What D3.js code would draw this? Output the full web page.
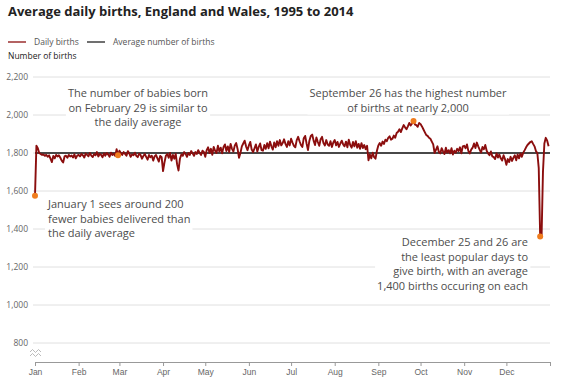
<!DOCTYPE html>
<html>
<head>
<meta charset="utf-8">
<script src="https://cdn.jsdelivr.net/npm/d3@7"></script>
<style>
  body { margin: 0; background: #fff; }
  svg { font-family: "Open Sans", sans-serif; }
  .grid line { stroke: #e0e0e0; }
  .axis text { fill: #666; font-size: 8.5px; }
  .note { fill: #4d4d4d; font-size: 11px; }
</style>
</head>
<body>
<svg id="chart"></svg>
<script>
// average daily births per day of a leap year, month by month
var jan = [1575, 1838, 1825, 1800, 1795, 1790, 1792, 1785, 1790, 1780, 1788, 1770, 1752, 1785, 1772, 1790,
  1782, 1788, 1775, 1760, 1750, 1782, 1786, 1775, 1790, 1782, 1787, 1776, 1793, 1772, 1786];
var feb = [1790, 1782, 1795, 1788, 1776, 1797, 1790, 1783, 1800, 1786, 1779, 1794, 1788, 1805, 1782,
  1795, 1790, 1778, 1798, 1786, 1800, 1792, 1780, 1802, 1790, 1796, 1785, 1820, 1788];
var mar = [1812, 1800, 1790, 1805, 1795, 1786, 1810, 1798, 1780, 1792, 1788, 1802, 1785, 1778, 1796, 1790,
  1770, 1784, 1795, 1780, 1765, 1790, 1778, 1786, 1760, 1782, 1790, 1772, 1755, 1785, 1778];
var apr = [1705, 1750, 1785, 1795, 1775, 1800, 1760, 1790, 1770, 1795, 1740, 1708, 1770, 1792, 1785,
  1805, 1795, 1780, 1800, 1790, 1810, 1798, 1785, 1805, 1795, 1815, 1800, 1790, 1812, 1805];
var may = [1780, 1815, 1830, 1800, 1822, 1790, 1832, 1812, 1800, 1838, 1808, 1828, 1798, 1832, 1845, 1810,
  1835, 1805, 1848, 1822, 1808, 1840, 1852, 1820, 1775, 1800, 1835, 1850, 1865, 1835, 1815];
var jun = [1840, 1858, 1818, 1805, 1825, 1845, 1808, 1832, 1850, 1815, 1812, 1842, 1822, 1852, 1825,
  1860, 1835, 1818, 1855, 1830, 1862, 1838, 1868, 1840, 1852, 1872, 1848, 1832, 1862, 1840];
var jul = [1875, 1855, 1838, 1830, 1868, 1885, 1862, 1842, 1832, 1878, 1890, 1850, 1815, 1865, 1890, 1897,
  1865, 1842, 1882, 1858, 1838, 1872, 1885, 1852, 1840, 1868, 1845, 1838, 1862, 1832, 1855];
var aug = [1868, 1840, 1858, 1832, 1850, 1865, 1845, 1835, 1860, 1830, 1870, 1842, 1828, 1858, 1835, 1862,
  1828, 1848, 1822, 1852, 1826, 1842, 1820, 1838, 1762, 1792, 1772, 1802, 1778, 1770, 1812];
var sep = [1840, 1852, 1838, 1860, 1848, 1870, 1862, 1880, 1888, 1870, 1875, 1892, 1880, 1905, 1912,
  1925, 1910, 1930, 1947, 1935, 1925, 1940, 1958, 1945, 1955, 1968, 1950, 1947, 1938, 1958];
var oct = [1952, 1940, 1925, 1910, 1895, 1890, 1880, 1875, 1860, 1845, 1800, 1818, 1835, 1805, 1798, 1825,
  1808, 1795, 1828, 1802, 1815, 1798, 1825, 1792, 1812, 1802, 1822, 1810, 1830, 1798, 1835];
var nov = [1838, 1825, 1845, 1810, 1798, 1818, 1828, 1850, 1826, 1855, 1835, 1818, 1802, 1832, 1820,
  1842, 1812, 1798, 1788, 1808, 1782, 1778, 1768, 1798, 1776, 1792, 1772, 1760, 1788, 1768];
var dec = [1738, 1768, 1752, 1780, 1758, 1775, 1788, 1762, 1792, 1772, 1798, 1780, 1802, 1815, 1830, 1842,
  1850, 1858, 1862, 1848, 1835, 1810, 1800, 1720, 1360, 1355, 1700, 1850, 1880, 1865, 1835];

var months = [jan, feb, mar, apr, may, jun, jul, aug, sep, oct, nov, dec];
var average = 1800;
var yTicks = [800, 1000, 1200, 1400, 1600, 1800, 2000, 2200];

// highlighted days: [month index, day]
var highlights = [[0, 1], [1, 29], [8, 26], [11, 25]];

var width = 562, height = 387;
var margin = { top: 77, right: 12, bottom: 25, left: 35 };

var svg = d3.select("#chart")
  .attr("width", width)
  .attr("height", height);

// flatten to dated points in a leap year
var data = [];
months.forEach(function(m, i) {
  m.forEach(function(v, j) {
    data.push({ date: new Date(2012, i, j + 1), value: v });
  });
});

var x = d3.scaleTime()
  .domain([new Date(2012, 0, 1), new Date(2013, 0, 1)])
  .range([margin.left, width - margin.right]);
var y = d3.scaleLinear()
  .domain([700, 2200])
  .range([height - margin.bottom, margin.top]);

// title + legend
svg.append("text")
  .attr("x", 8).attr("y", 16)
  .style("font-size", "13px").style("font-weight", "bold").style("fill", "#222")
  .text("Average daily births, England and Wales, 1995 to 2014");

var legend = [
  { label: "Daily births", color: "#8b0e0e", x: 8 },
  { label: "Average number of births", color: "#222", x: 87 }
];
legend.forEach(function(l) {
  svg.append("line")
    .attr("x1", l.x).attr("x2", l.x + 18)
    .attr("y1", 42).attr("y2", 42)
    .attr("stroke", l.color).attr("stroke-width", 1.3);
  svg.append("text")
    .attr("x", l.x + 26).attr("y", 45)
    .style("font-size", "8.5px").style("fill", "#555")
    .text(l.label);
});

svg.append("text")
  .attr("x", 8).attr("y", 59)
  .style("font-size", "8.5px").style("fill", "#222")
  .text("Number of births");

// gridlines + y labels
var grid = svg.append("g").attr("class", "grid axis");
yTicks.forEach(function(t) {
  grid.append("line")
    .attr("x1", margin.left - 2).attr("x2", width - margin.right)
    .attr("y1", y(t)).attr("y2", y(t));
  grid.append("text")
    .attr("x", 28).attr("y", y(t) + 3)
    .attr("text-anchor", "end")
    .text(d3.format(",")(t));
});

// axis break symbol
[0, 4].forEach(function(dy) {
  svg.append("path")
    .attr("d", "M30," + (352 + dy) + " l2.5,-2.5 l3,3 l3,-3 l2.5,2.5")
    .attr("fill", "none").attr("stroke", "#aaa").attr("stroke-width", 0.8);
});

// x axis
var xAxis = svg.append("g")
  .attr("class", "axis")
  .attr("transform", "translate(0," + (height - margin.bottom) + ")")
  .call(d3.axisBottom(x)
    .ticks(d3.timeMonth.every(1))
    .tickFormat(d3.timeFormat("%b"))
    .tickSize(4)
    .tickPadding(3));
xAxis.select(".domain").attr("stroke", "#999");
xAxis.selectAll(".tick line").attr("stroke", "#999");
xAxis.selectAll(".tick").filter(function(d) { return d.getFullYear() === 2013; })
  .select("text").remove();

// annotation backgrounds + text
var notes = [
  { lines: ["The number of babies born", "on February 29 is similar to", "the daily average"],
    x: 138, y: 97, anchor: "middle" },
  { lines: ["September 26 has the highest number", "of births at nearly 2,000"],
    x: 408, y: 97, anchor: "middle" },
  { lines: ["January 1 sees around 200", "fewer babies delivered than", "the daily average"],
    x: 48, y: 208, anchor: "start" },
  { lines: ["December 25 and 26 are", "the least popular days to", "give birth, with an average",
    "1,400 births occuring on each"],
    x: 528, y: 246, anchor: "end" }
];
notes.forEach(function(n) {
  var g = svg.append("g");
  var t = g.append("text").attr("class", "note").attr("text-anchor", n.anchor);
  n.lines.forEach(function(l, i) {
    t.append("tspan").attr("x", n.x).attr("y", n.y + i * 14.5).text(l);
  });
  var bb = t.node().getBBox();
  g.insert("rect", "text")
    .attr("x", bb.x - 2).attr("y", bb.y)
    .attr("width", bb.width + 4).attr("height", bb.height)
    .attr("fill", "#fff");
});

// average line
svg.append("line")
  .attr("x1", x(new Date(2012, 0, 1))).attr("x2", x(new Date(2013, 0, 1)))
  .attr("y1", y(average)).attr("y2", y(average))
  .attr("stroke", "#111").attr("stroke-width", 1.3);

// daily births line
var line = d3.line()
  .x(function(d) { return x(d.date); })
  .y(function(d) { return y(d.value); });

svg.append("path")
  .datum(data)
  .attr("fill", "none")
  .attr("stroke", "#8b0e0e")
  .attr("stroke-width", 1.9)
  .attr("stroke-linejoin", "round")
  .attr("d", line);

// highlighted points
svg.selectAll(".dot")
  .data(highlights)
  .enter().append("circle")
  .attr("class", "dot")
  .attr("cx", function(h) { return x(new Date(2012, h[0], h[1])); })
  .attr("cy", function(h) { return y(months[h[0]][h[1] - 1]); })
  .attr("r", 3)
  .attr("fill", "#f07d1e");
</script>
</body>
</html>
